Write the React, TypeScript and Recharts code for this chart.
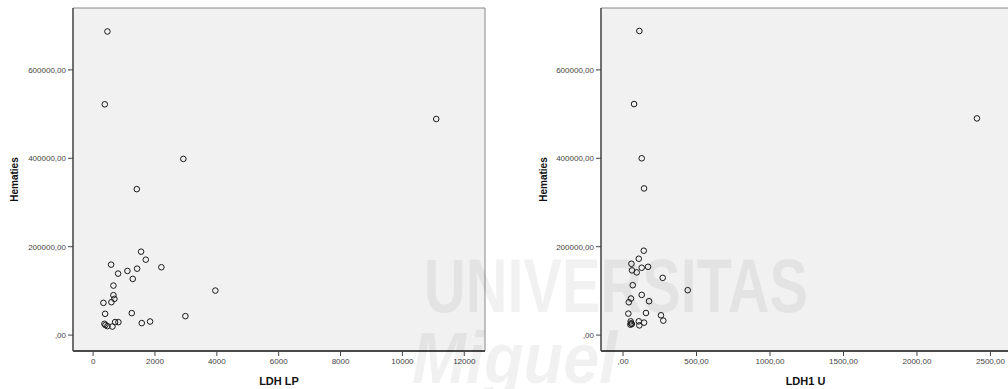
import { ScatterChart, Scatter, XAxis, YAxis, ReferenceArea } from 'recharts'

// LDH LP vs Hematies
const ldhLp = [463, 377, 11093, 2918, 1412, 1551, 1703, 582, 2207, 1422, 1109, 808, 1282, 657, 3952, 657, 689, 592, 333, 388, 1250, 2983, 1842, 711, 818, 1573, 366, 398, 463, 624]
const hematiesLp = [686900, 522100, 488900, 398600, 330200, 188700, 170600, 159400, 153500, 150300, 145100, 139100, 127100, 112000, 100700, 90300, 81900, 74500, 72900, 48100, 49700, 42900, 30700, 29300, 29300, 27100, 25500, 22600, 20300, 19400]

// LDH1 U vs Hematies
const ldh1U = [111, 75, 2408, 127, 143, 141, 107, 57, 170, 127, 61, 93, 270, 66, 440, 127, 54, 177, 39, 36, 156, 258, 274, 52, 107, 143, 54, 50, 111, 60]
const hematiesU = [688000, 522700, 490200, 400000, 331800, 190900, 172700, 161400, 154500, 152300, 146400, 141800, 129500, 112900, 101600, 90900, 82700, 76600, 74300, 48600, 50000, 44800, 32700, 31100, 31100, 28200, 26600, 23600, 22000, 25000]

const yTicks = [0, 200000, 400000, 600000]
const lpTicks = [0, 2000, 4000, 6000, 8000, 10000, 12000]
const uTicks = [0, 500, 1000, 1500, 2000, 2500]

const Y_DOMAIN: [number, number] = [-36000, 740000]
const LP_DOMAIN: [number, number] = [-650, 12670]
const U_DOMAIN: [number, number] = [-150, 2633]

const FONT = '"Liberation Sans", Arial, sans-serif'
const PLOT_BG = '#f0f1f0'

const lpData = ldhLp.map((x, i) => ({ x, y: hematiesLp[i] }))
const uData = ldh1U.map((x, i) => ({ x, y: hematiesU[i] }))

const comma = (v: number) => (v === 0 ? ',00' : `${v},00`)

function Ring(props: any) {
  const { cx, cy } = props
  if (cx == null || cy == null) return <g />
  return <circle cx={cx} cy={cy} r={2.8} fill="none" stroke="#1a1a1a" strokeWidth={1} />
}

function yTitle(offset: number) {
  return (props: any) => {
    const vb = props.viewBox || {}
    const x = vb.x + offset
    const y = vb.y + vb.height / 2
    return (
      <text x={x} y={y} transform={`rotate(-90 ${x} ${y})`} textAnchor="middle" fontSize={10} fontWeight={700} fontFamily={FONT} fill="#111">
        Hematies
      </text>
    )
  }
}

function xTitle(label: string) {
  return (props: any) => {
    const vb = props.viewBox || {}
    return (
      <text x={vb.x + vb.width / 2} y={vb.y + 34} textAnchor="middle" fontSize={11} fontWeight={700} fontFamily={FONT} fill="#111">
        {label}
      </text>
    )
  }
}

interface PanelProps {
  data: { x: number; y: number }[]
  width: number
  yAxisWidth: number
  rightMargin: number
  xDomain: [number, number]
  xTicks: number[]
  xFormat: (v: number) => string
  xLabel: string
  titleOffset: number
}

function Panel({ data, width, yAxisWidth, rightMargin, xDomain, xTicks, xFormat, xLabel, titleOffset }: PanelProps) {
  const tick = { fontSize: 8, fill: '#444', fontFamily: FONT }
  return (
    <ScatterChart width={width} height={389} margin={{ top: 8, right: rightMargin, left: 0, bottom: 0 }}>
      <ReferenceArea x1={xDomain[0]} x2={xDomain[1]} y1={Y_DOMAIN[0]} y2={Y_DOMAIN[1]} fill={PLOT_BG} fillOpacity={1} stroke="#888" strokeWidth={1} ifOverflow="visible" />
      <XAxis
        type="number"
        dataKey="x"
        domain={xDomain}
        ticks={xTicks}
        allowDataOverflow
        tickFormatter={xFormat}
        tick={tick}
        tickSize={5}
        height={38}
        axisLine={{ stroke: '#222', strokeWidth: 1.5 }}
        tickLine={{ stroke: '#444' }}
        label={{ content: xTitle(xLabel) }}
      />
      <YAxis
        type="number"
        dataKey="y"
        domain={Y_DOMAIN}
        ticks={yTicks}
        allowDataOverflow
        tickFormatter={comma}
        tick={tick}
        tickSize={5}
        width={yAxisWidth}
        axisLine={{ stroke: '#555', strokeWidth: 1.5 }}
        tickLine={{ stroke: '#444' }}
        label={{ content: yTitle(titleOffset) }}
      />
      <Scatter data={data} shape={Ring} isAnimationActive={false} />
    </ScatterChart>
  )
}

const wmStyle: React.CSSProperties = {
  position: 'absolute',
  color: 'rgba(0,0,0,0.055)',
  fontFamily: FONT,
  fontWeight: 700,
  pointerEvents: 'none',
  whiteSpace: 'nowrap',
  lineHeight: 1,
  transformOrigin: 'left top',
}

export default function App() {
  return (
    <div style={{ position: 'fixed', left: 0, top: 0, width: 1008, height: 389, background: '#fff', overflow: 'hidden' }}>
      <div style={{ position: 'absolute', left: 0, top: 0 }}>
        <Panel data={lpData} width={500} yAxisWidth={73} rightMargin={15} xDomain={LP_DOMAIN} xTicks={lpTicks} xFormat={(v) => String(v)} xLabel="LDH LP" titleOffset={18} />
      </div>
      <div style={{ position: 'absolute', left: 500, top: 0 }}>
        <Panel data={uData} width={510} yAxisWidth={101} rightMargin={0} xDomain={U_DOMAIN} xTicks={uTicks} xFormat={comma} xLabel="LDH1 U" titleOffset={47} />
      </div>
      <div style={{ ...wmStyle, left: 424, top: 248, fontSize: 76, transform: 'scaleX(0.76)' }}>UNIVERSITAS</div>
      <div style={{ ...wmStyle, left: 412, top: 322, fontSize: 72, fontStyle: 'italic', transform: 'scaleX(0.9)' }}>Miguel</div>
    </div>
  )
}
